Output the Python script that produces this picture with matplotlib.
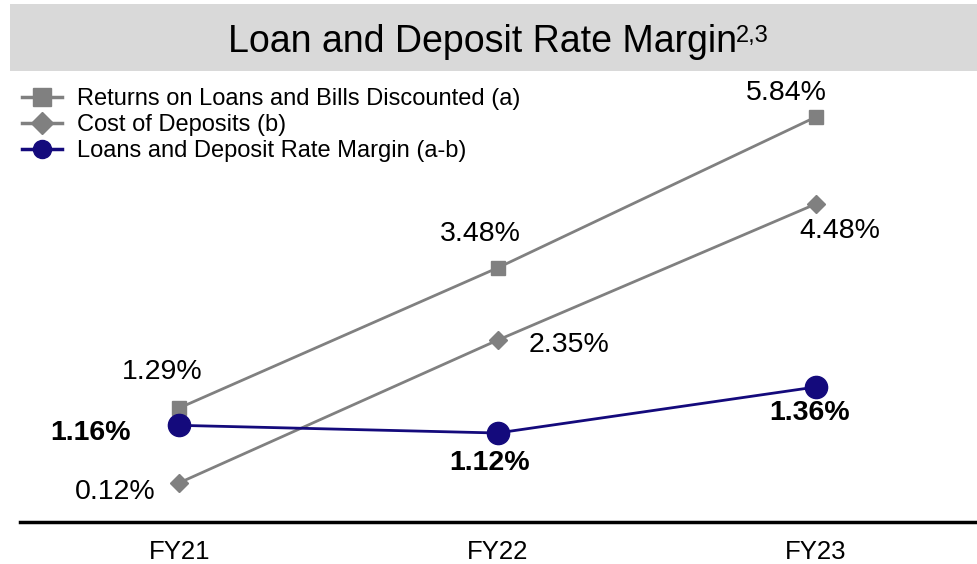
import matplotlib
matplotlib.use("Agg")
import matplotlib.pyplot as plt
from matplotlib.patches import Rectangle
from matplotlib.lines import Line2D

categories = ["FY21", "FY22", "FY23"]
returns_loans = [1.29, 3.48, 5.84]
cost_deposits = [0.12, 2.35, 4.48]
margin = [1.16, 1.12, 1.36]
series_names = ["Returns on Loans and Bills Discounted (a)",
                "Cost of Deposits (b)",
                "Loans and Deposit Rate Margin (a-b)"]
title = "Loan and Deposit Rate Margin"
title_sup = "2,3"

plt.rcParams['font.family'] = ['Liberation Sans', 'DejaVu Sans']

W, H = 977, 564
fig = plt.figure(figsize=(W / 100, H / 100), dpi=100)

# title band
fig.patches.append(Rectangle((10 / W, 1 - 71 / H), 967 / W, 67 / H,
                             transform=fig.transFigure, facecolor="#d9d9d9",
                             edgecolor="none", zorder=0))
fig.text(228 / W, 1 - 52 / H, title, ha="left", va="baseline",
         fontsize=27, color="black")
fig.text(736 / W, 1 - 42 / H, title_sup, ha="left", va="baseline",
         fontsize=17, color="black")

ax_left, ax_right = 20, 975
ax_bottom, ax_top = 522, 75
ax = fig.add_axes([ax_left / W, 1 - ax_bottom / H, (ax_right - ax_left) / W,
                   (ax_bottom - ax_top) / H])
ax2 = ax.twinx()

x = list(range(len(categories)))
grey = "#808080"
navy = "#140a7c"

ax.plot(x, returns_loans, color=grey, lw=2, marker="s", ms=10)
ax.plot(x, cost_deposits, color=grey, lw=2, marker="D", ms=9)
ax2.plot(x, margin, color=navy, lw=2, marker="o", ms=16)

# scales
ppu1 = 63.96
ax.set_ylim(1.29 - (ax_bottom - 408) / ppu1, 1.29 + (408 - ax_top) / ppu1)
ppu2 = 191.7
ax2.set_ylim(1.12 - (ax_bottom - 433) / ppu2, 1.12 + (433 - ax_top) / ppu2)
ax.set_xlim(-0.5, 2.5)

for a in (ax, ax2):
    a.set_yticks([])
    for s in ("left", "right", "top", "bottom"):
        a.spines[s].set_visible(False)
ax.spines["bottom"].set_visible(True)
ax.spines["bottom"].set_linewidth(2.5)
ax.spines["bottom"].set_color("black")
ax.set_xticks(x)
ax.set_xticklabels(categories, fontsize=18.5)
ax.tick_params(axis="x", length=0, pad=13)

def lab(a, xi, v, dx, dy, bold=False):
    a.annotate(f"{v:.2f}%", (xi, v), xytext=(dx, dy), textcoords="offset pixels",
               ha="center", va="center", fontsize=20.5,
               fontweight="bold" if bold else "normal", color="black")

offs_r = [(-17, 36), (-17, 34), (-30, 24)]
offs_c = [(-64, -9), (72, -5), (24, -27)]
offs_m = [(-89, -8), (-8, -30), (-6, -26)]
for i in x:
    lab(ax, i, returns_loans[i], *offs_r[i])
    lab(ax, i, cost_deposits[i], *offs_c[i])
    lab(ax2, i, margin[i], *offs_m[i], bold=True)

# legend
h1 = Line2D([], [], color=grey, lw=2.5, marker="s", ms=13)
h2 = Line2D([], [], color=grey, lw=2.5, marker="D", ms=11)
h3 = Line2D([], [], color=navy, lw=2.5, marker="o", ms=13)
fig.legend([h1, h2, h3], series_names, loc="upper left",
           bbox_to_anchor=(22 / W, 1 - 88.5 / H), frameon=False,
           fontsize=17, handlelength=1.7, handletextpad=0.65,
           labelspacing=0.16, borderaxespad=0, borderpad=0)

fig.savefig("out.png", dpi=100)
